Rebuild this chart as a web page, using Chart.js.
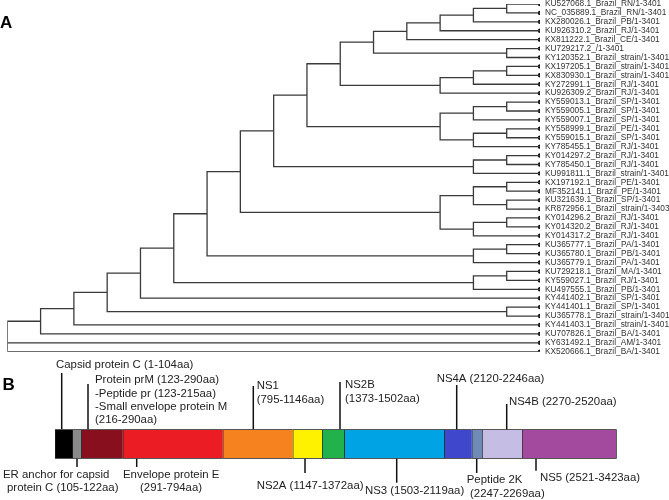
<!DOCTYPE html>
<html><head><meta charset="utf-8">
<script src="https://cdn.jsdelivr.net/npm/chart.js@4.4.1/dist/chart.umd.min.js"></script>
<style>
html,body{margin:0;padding:0;background:#fff;width:669px;height:500px;overflow:hidden}
canvas{position:absolute;left:0;top:0}
</style></head><body>
<canvas id="tree" width="669" height="500"></canvas>
<canvas id="genome" width="669" height="500"></canvas>
<script>
// ---------- Panel A data ----------
const leafLabels = [
  'KU527068.1_Brazil_RN/1-3401','NC_035889.1_Brazil_RN/1-3401','KX280026.1_Brazil_PB/1-3401',
  'KU926310.2_Brazil_RJ/1-3401','KX811222.1_Brazil_CE/1-3401','KU729217.2_/1-3401',
  'KY120352.1_Brazil_strain/1-3401','KX197205.1_Brazil_strain/1-3401','KX830930.1_Brazil_strain/1-3401',
  'KY272991.1_Brazil_RJ/1-3401','KU926309.2_Brazil_RJ/1-3401','KY559013.1_Brazil_SP/1-3401',
  'KY559005.1_Brazil_SP/1-3401','KY559007.1_Brazil_SP/1-3401','KY558999.1_Brazil_PE/1-3401',
  'KY559015.1_Brazil_SP/1-3401','KY785455.1_Brazil_RJ/1-3401','KY014297.2_Brazil_RJ/1-3401',
  'KY785450.1_Brazil_RJ/1-3401','KU991811.1_Brazil_strain/1-3401','KX197192.1_Brazil_PE/1-3401',
  'MF352141.1_Brazil_PE/1-3401','KU321639.1_Brazil_SP/1-3401','KR872956.1_Brazil_strain/1-3403',
  'KY014296.2_Brazil_RJ/1-3401','KY014320.2_Brazil_RJ/1-3401','KY014317.2_Brazil_RJ/1-3401',
  'KU365777.1_Brazil_PA/1-3401','KU365780.1_Brazil_PB/1-3401','KU365779.1_Brazil_PA/1-3401',
  'KU729218.1_Brazil_MA/1-3401','KY559027.1_Brazil_RJ/1-3401','KU497555.1_Brazil_PB/1-3401',
  'KY441402.1_Brazil_SP/1-3401','KY441401.1_Brazil_SP/1-3401','KU365778.1_Brazil_strain/1-3401',
  'KY441403.1_Brazil_strain/1-3401','KU707826.1_Brazil_BA/1-3401','KY631492.1_Brazil_AM/1-3401',
  'KX520666.1_Brazil_BA/1-3401'
];
// tree topology (nested groups of leaf indices)
const treeTopology = [[[[[[[[[[[[[[[[0,1],2],3],4],[5,6]],[[[7,8],9],10]],[[[11,12],13],[[14,15],16]]],[[17,18],19]],[[[20,21],[22,23]],[[24,25],26]]],[[27,28],29]],[[30,31],32]],33],[34,35]],36],37],38,39];

// ---------- Panel B data ----------
const segmentNames = ['Capsid protein C','ER anchor','Protein prM','Envelope protein E','NS1','NS2A','NS2B','NS3','NS4A','Peptide 2K','NS4B','NS5'];
const segmentWidths = [17.3, 9.0, 41.4, 100.0, 70.0, 29.3, 22.3, 100.0, 27.4, 10.3, 40.3, 94.4];
const segmentColors = ['#000000','#8a8a8a','#870f1e','#ec1c24','#f6821f','#fff200','#21b24b','#00a3e4','#3f48cc','#6f8ab5','#c6bde4','#a34a9e'];
const annotationTexts = [
  ['Capsid protein C (1-104aa)'],
  ['Protein prM (123-290aa)','-Peptide pr (123-215aa)','-Small envelope protein M','(216-290aa)'],
  ['NS1','(795-1146aa)'],
  ['NS2B','(1373-1502aa)'],
  ['NS4A (2120-2246aa)'],
  ['NS4B (2270-2520aa)'],
  ['ER anchor for capsid','protein C (105-122aa)'],
  ['Envelope protein E','(291-794aa)'],
  ['NS2A (1147-1372aa)'],
  ['NS3 (1503-2119aa)'],
  ['Peptide 2K','(2247-2269aa)'],
  ['NS5 (2521-3423aa)']
];
// ---------- layout of callouts (positions/styles) ----------
const annotationLayout = [
  {side:'top', at:6.7, reach:56.3, dx:-5.7, base:-61, step:0},
  {side:'top', at:33, reach:45.3, dx:7, base:-46, step:13.3},
  {side:'top', at:198.3, reach:43.3, dx:3.4, base:-40.3, step:14.3},
  {side:'top', at:285, reach:47.3, dx:5, base:-41.6, step:14},
  {side:'top', at:401.7, reach:44.3, dx:-20, base:-47, step:0},
  {side:'top', at:451.7, reach:25.3, dx:2.3, base:-24.3, step:0},
  {side:'bottom', at:22, reach:8.3, dx:[-74,-70], base:19.6, step:12.4},
  {side:'bottom', at:81.7, reach:8.3, dx:[-13.7,3.3], base:19.6, step:12.4},
  {side:'bottom', at:250, reach:14.3, dx:-48.3, base:30.3, step:0},
  {side:'bottom', at:341.7, reach:24, dx:-31.7, base:35.3, step:0},
  {side:'bottom', at:421.7, reach:14.3, dx:[-10,-6.7], base:24.6, step:13.4},
  {side:'bottom', at:481, reach:12, dx:4, base:22, step:0}
];

// ---------- tree layout (cladogram, leaves aligned) ----------
function layoutTree(node){
  if (typeof node === 'number') return {h:0, y:node, children:[]};
  const kids = node.map(layoutTree);
  return {h: 1 + Math.max(...kids.map(k=>k.h)), y:(kids[0].y + kids[kids.length-1].y)/2, children:kids};
}
const root = layoutTree(treeTopology);
const depth = root.h;
const treeSegments = [];
(function collect(n){
  if (!n.children.length) return;
  const x = depth - n.h;
  const first = n.children[0], last = n.children[n.children.length-1];
  treeSegments.push({x, y:first.y}, {x, y:last.y}, {x:null, y:null});
  n.children.forEach(c=>{
    treeSegments.push({x, y:c.y}, {x:depth - c.h, y:c.y}, {x:null, y:null});
    collect(c);
  });
})(root);

function letterPlugin(text, x, y){
  return {id:'letter'+text, afterDraw(chart){
    const c = chart.ctx; c.save();
    c.font = 'bold 17px "Liberation Sans", Arial, sans-serif';
    c.fillStyle = '#000'; c.textBaseline = 'alphabetic'; c.textAlign = 'left';
    c.fillText(text, x, y); c.restore();
  }};
}

new Chart(document.getElementById('tree'), {
  type:'line',
  data:{datasets:[
    {data:treeSegments, borderColor:'#3a3a3a', borderWidth:1.3, pointRadius:0, spanGaps:false, tension:0, fill:false, borderCapStyle:'square'},
    {data:leafLabels.map((_, i)=>({x:depth, y:i})), showLine:false, pointRadius:2.2, pointBackgroundColor:'#000', pointBorderWidth:0, pointBorderColor:'#000'}
  ]},
  options:{
    responsive:false, animation:false, devicePixelRatio:1,
    layout:{padding:{left:7.3, top:4, bottom:148.3, right:0}},
    plugins:{legend:{display:false}, tooltip:{enabled:false}},
    scales:{
      x:{type:'linear', min:0, max:depth, display:false},
      y:{type:'linear', position:'right', reverse:true, min:0, max:leafLabels.length-1,
        grid:{display:false, drawTicks:false}, border:{display:false},
        ticks:{stepSize:1, autoSkip:false, padding:5, crossAlign:'near', color:'#333',
          font:{family:'"Liberation Sans", Arial, sans-serif', size:8.3},
          callback:(v)=>leafLabels[Math.round(v)] ?? ''},
        afterFit:(s)=>{s.width = 129; s.paddingTop = 0; s.paddingBottom = 0;}
      }
    }
  },
  plugins:[letterPlugin('A', 0, 27.5)]
});

const annotPlugin = {id:'annot', afterDraw(chart){
  const {ctx, chartArea, scales:{x}} = chart;
  ctx.save();
  ctx.strokeStyle = '#111'; ctx.lineWidth = 1.5; ctx.fillStyle = '#222';
  ctx.font = '11.4px "Liberation Sans", Arial, sans-serif';
  ctx.textBaseline = 'alphabetic'; ctx.textAlign = 'left';
  annotationLayout.forEach((a, i)=>{
    const px = x.getPixelForValue(a.at);
    const edge = a.side === 'top' ? chartArea.top : chartArea.bottom;
    const dir = a.side === 'top' ? -1 : 1;
    ctx.beginPath(); ctx.moveTo(px, edge); ctx.lineTo(px, edge + dir*a.reach); ctx.stroke();
    annotationTexts[i].forEach((t, j)=>{
      const dx = Array.isArray(a.dx) ? a.dx[j] : a.dx;
      ctx.fillText(t, px + dx, edge + a.base + j*a.step);
    });
  });
  ctx.restore();
}};

const total = segmentWidths.reduce((s,v)=>s+v, 0);
new Chart(document.getElementById('genome'), {
  type:'bar',
  data:{labels:['Polyprotein'], datasets:segmentNames.map((n, i)=>({
    label:n, data:[segmentWidths[i]], backgroundColor:segmentColors[i], borderColor:'#1e1e1e',
    borderWidth:{top:1, bottom:1, left:1, right:i === segmentNames.length-1 ? 1 : 0},
    borderSkipped:false, barPercentage:1, categoryPercentage:1
  }))},
  options:{
    indexAxis:'y', responsive:false, animation:false, devicePixelRatio:1,
    layout:{padding:{left:55, right:52.3, top:429.3, bottom:41.3}},
    plugins:{legend:{display:false}, tooltip:{enabled:false}},
    scales:{x:{stacked:true, min:0, max:total, display:false}, y:{stacked:true, display:false}}
  },
  plugins:[annotPlugin, letterPlugin('B', 2.5, 390)]
});
</script>
</body></html>
